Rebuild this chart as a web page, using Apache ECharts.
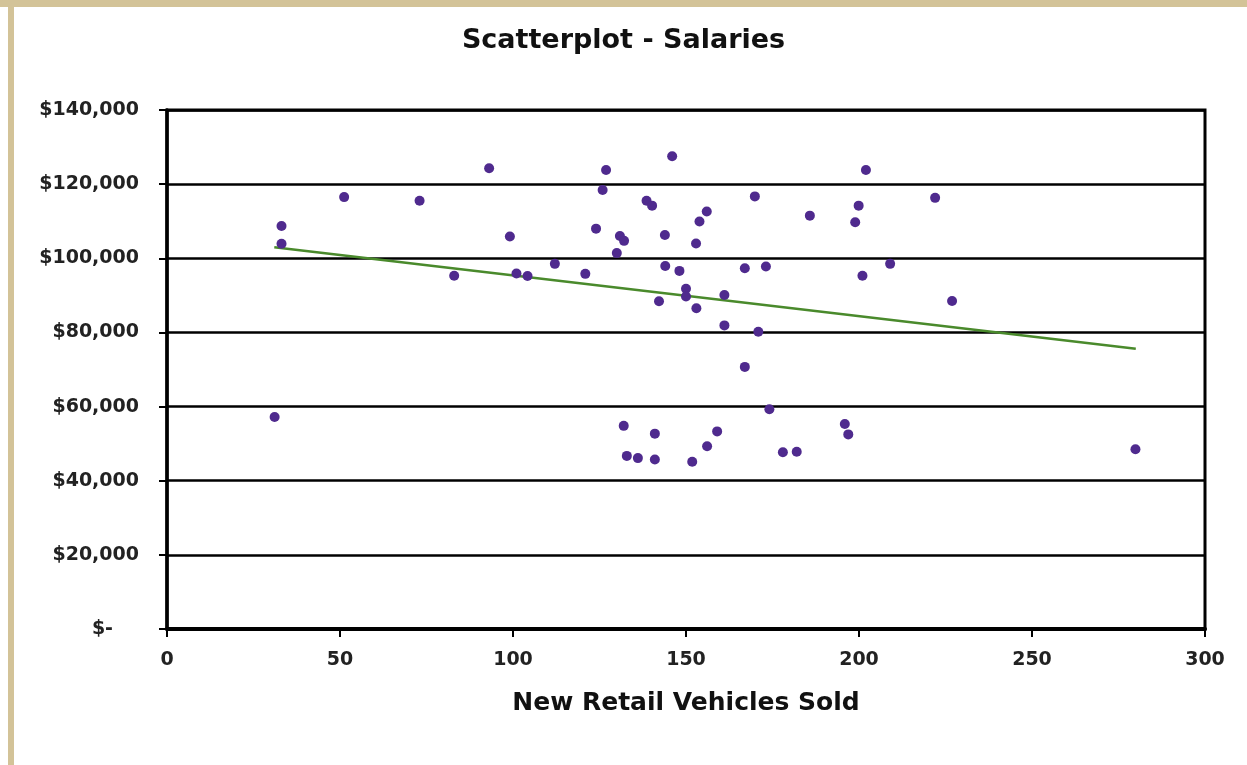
<!DOCTYPE html>
<html>
<head>
<meta charset="utf-8">
<script src="https://cdn.jsdelivr.net/npm/echarts@6/dist/echarts.min.js"></script>
<style>
html,body{margin:0;padding:0;background:#fff;}
#chart{width:1247px;height:765px;}
</style>
</head>
<body>
<div id="chart"></div>
<script>
// Data
const vehiclesSold = [31.1, 33.1, 33.1, 51.2, 73, 83, 93.1, 99.1, 101, 104.2, 112.1, 120.9, 124, 125.9, 126.9, 130, 130.9, 132.1, 138.6, 140.2, 142.2, 143.9, 144, 146, 148.1, 150, 150, 152.9, 153, 153.9, 156, 161.1, 161.1, 167, 167, 169.9, 170.9, 173.1, 174.1, 185.8, 198.9, 199.9, 201, 202, 209, 222, 226.9, 132, 141, 159, 156.1, 132.9, 136.1, 141, 151.8, 178, 182, 195.9, 196.9, 279.9];
const salaries = [57200, 108700, 103900, 116500, 115500, 95300, 124300, 105900, 95900, 95200, 98500, 95800, 108000, 118400, 123800, 101400, 106000, 104700, 115500, 114200, 88400, 106300, 97900, 127500, 96600, 91800, 89700, 104000, 86500, 109900, 112600, 90100, 81900, 97300, 70700, 116700, 80200, 97800, 59300, 111500, 109700, 114200, 95300, 123800, 98500, 116300, 88500, 54800, 52700, 53300, 49300, 46700, 46100, 45700, 45100, 47700, 47800, 55300, 52500, 48500];
const trendX = [31, 280];
const trendY = [103000, 75600];
const xTicks = [0, 50, 100, 150, 200, 250, 300];
const yTicks = [0, 20000, 40000, 60000, 80000, 100000, 120000, 140000];

const points = vehiclesSold.map((x, i) => [x, salaries[i]]);
const trend = trendX.map((x, i) => [x, trendY[i]]);

const FONT = '"DejaVu Sans", "Liberation Sans", Arial, sans-serif';
const chart = echarts.init(document.getElementById('chart'), null, {renderer: 'canvas'});
chart.setOption({
  backgroundColor: '#ffffff',
  animation: false,
  title: {
    text: 'Scatterplot - Salaries',
    left: 'center',
    top: 22,
    textStyle: {fontFamily: FONT, fontWeight: 'bold', fontSize: 27, color: '#111'}
  },
  graphic: [
    {type: 'rect', shape: {x: 0, y: 0, width: 1247, height: 7}, style: {fill: '#d3c398'}, silent: true},
    {type: 'rect', shape: {x: 8, y: 0, width: 6, height: 765}, style: {fill: '#d3c398'}, silent: true}
  ],
  grid: {
    left: 167, right: 42, top: 110, bottom: 136,
    show: true, borderColor: '#000', borderWidth: 3, backgroundColor: 'transparent'
  },
  xAxis: {
    type: 'value',
    min: xTicks[0], max: xTicks[xTicks.length - 1], interval: 50,
    name: 'New Retail Vehicles Sold',
    nameLocation: 'middle',
    nameGap: 62,
    nameTextStyle: {fontFamily: FONT, fontWeight: 'bold', fontSize: 25, color: '#111'},
    axisLine: {show: true, onZero: false, lineStyle: {color: '#000', width: 4}},
    axisTick: {show: true, inside: false, length: 8, lineStyle: {color: '#000', width: 2}},
    axisLabel: {margin: 22, fontFamily: FONT, fontWeight: 'bold', fontSize: 19, color: '#222'},
    splitLine: {show: false}
  },
  yAxis: {
    type: 'value',
    min: yTicks[0], max: yTicks[yTicks.length - 1], interval: 20000,
    axisLine: {show: true, onZero: false, lineStyle: {color: '#000', width: 3.5}},
    axisTick: {show: true, inside: false, length: 8, lineStyle: {color: '#000', width: 2}},
    axisLabel: {
      margin: 28, fontFamily: FONT, fontWeight: 'bold', fontSize: 19, color: '#222',
      formatter: function (v) {
        if (v === 0) return '{z|$-}';
        return '$' + v.toLocaleString('en-US');
      },
      rich: {z: {fontFamily: FONT, fontWeight: 'bold', fontSize: 19, color: '#222', padding: [0, 26, 0, 0]}}
    },
    splitLine: {show: true, lineStyle: {color: '#000', width: 2.5}}
  },
  series: [
    {
      type: 'line',
      data: trend,
      showSymbol: false,
      symbol: 'none',
      lineStyle: {color: '#4a8a2c', width: 2.5},
      z: 3
    },
    {
      type: 'scatter',
      data: points,
      symbol: 'circle',
      symbolSize: 10,
      itemStyle: {color: '#4f2a8e', opacity: 1},
      z: 4
    }
  ]
});
</script>
</body>
</html>
